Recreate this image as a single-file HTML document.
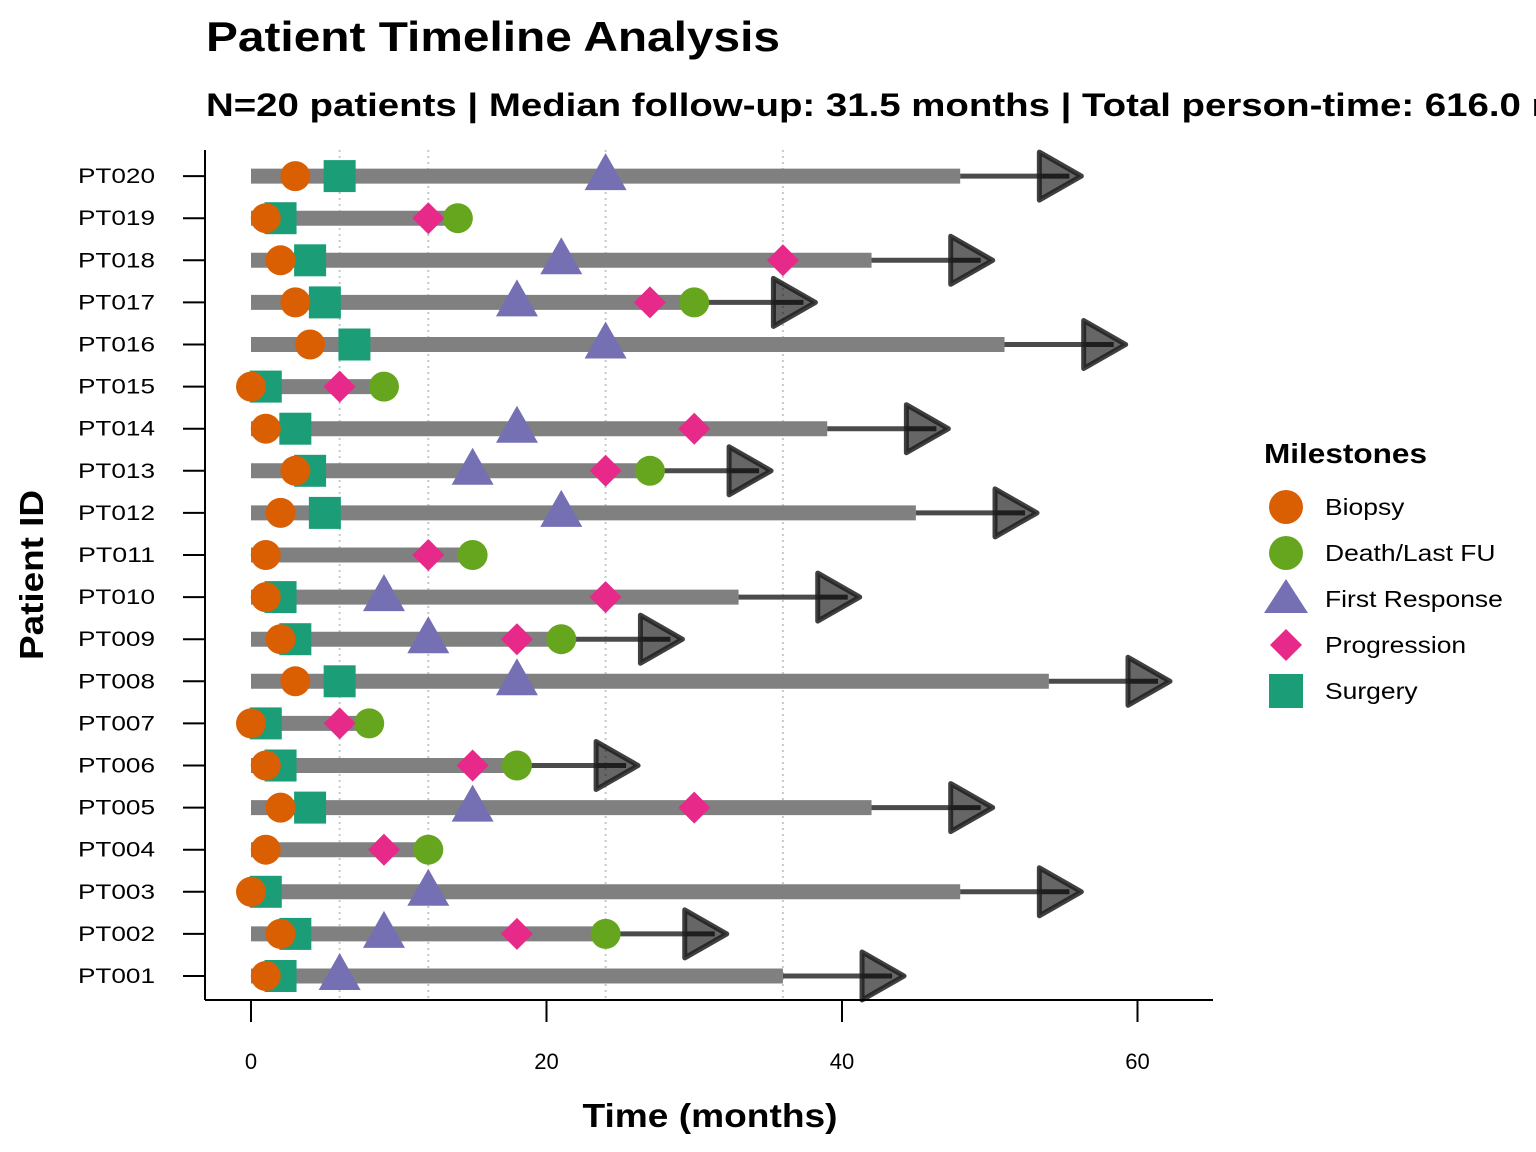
<!DOCTYPE html>
<html><head><meta charset="utf-8"><style>
html,body{margin:0;padding:0;background:#fff;}
svg{display:block;font-family:"Liberation Sans",Arial,sans-serif;}
</style></head><body>
<svg id="chart" width="1536" height="1152" viewBox="0 0 1536 1152">
<text x="206" y="51" font-size="42" font-weight="bold" fill="#000" textLength="574" lengthAdjust="spacingAndGlyphs">Patient Timeline Analysis</text>
<text id="subtitle" x="206" y="116" font-size="32" font-weight="bold" fill="#000">N=20 patients | Median follow-up: 31.5 months | Total person-time: 616.0 months</text>
<g id="grid"></g>
<g id="bars"></g>
<g id="marks"></g>
<g id="axes"></g>
<text x="710" y="1127" font-size="33" font-weight="bold" text-anchor="middle" textLength="255" lengthAdjust="spacingAndGlyphs">Time (months)</text>
<text transform="translate(43,575) rotate(-90)" font-size="33" font-weight="bold" text-anchor="middle" textLength="170" lengthAdjust="spacingAndGlyphs">Patient ID</text>
<g id="legend">
<text x="1264" y="463" font-size="28" font-weight="bold" textLength="163" lengthAdjust="spacingAndGlyphs">Milestones</text>
</g>
</svg>
<script>
const patients=["PT001","PT002","PT003","PT004","PT005","PT006","PT007","PT008","PT009","PT010","PT011","PT012","PT013","PT014","PT015","PT016","PT017","PT018","PT019","PT020"];
const followUp=[36,24,48,12,42,18,8,54,21,33,15,45,27,39,9,51,30,42,14,48];
const ongoing=[1,1,1,0,1,1,0,1,1,1,0,1,1,1,0,1,1,1,0,1];
const biopsy=[1,2,0,1,2,1,0,3,2,1,1,2,3,1,0,4,3,2,1,3];
const surgery=[2,3,1,null,4,2,1,6,3,2,null,5,4,3,1,7,5,4,2,6];
const response=[6,9,12,null,15,null,null,18,12,9,null,21,15,18,null,24,18,21,null,24];
const progression=[null,18,null,9,30,15,6,null,18,24,12,null,24,30,6,null,27,36,12,null];
const death=[null,24,null,12,null,18,8,null,21,null,15,null,27,null,9,null,30,null,14,null];
const xTicks=[0,20,40,60];
const gridAt=[6,12,24,36];

const NS="http://www.w3.org/2000/svg";
const X=v=>251+v*14.775;
const Y=i=>976-i*42.1;
function el(tag,attrs,parent){const e=document.createElementNS(NS,tag);for(const k in attrs)e.setAttribute(k,attrs[k]);parent.appendChild(e);return e;}
function stretch(t,f){const w=t.getComputedTextLength();t.setAttribute('textLength',w*f);t.setAttribute('lengthAdjust','spacingAndGlyphs');}
stretch(document.getElementById('subtitle'),1.2);
const grid=document.getElementById('grid'),bars=document.getElementById('bars'),marks=document.getElementById('marks'),axes=document.getElementById('axes'),legend=document.getElementById('legend');
gridAt.forEach(g=>{const l=el('line',{x1:X(g),x2:X(g),y1:150,y2:1000,stroke:'#c8c8c8','stroke-width':2,'stroke-dasharray':'2 4'},grid);

});
const COL={b:'#D95F02',d:'#66A61E',r:'#7570B3',p:'#E7298A',s:'#1B9E77'};
function shape(kind,cx,cy,parent){let e;
 if(kind==='b'||kind==='d')e=el('circle',{cx,cy,r:15,fill:COL[kind]},parent);
 else if(kind==='s')e=el('rect',{x:cx-16,y:cy-16,width:32,height:32,fill:COL.s},parent);
 else if(kind==='r')e=el('polygon',{points:`${cx},${cy-23} ${cx+21},${cy+14} ${cx-21},${cy+14}`,fill:COL.r},parent);
 else e=el('polygon',{points:`${cx},${cy-16} ${cx+16},${cy} ${cx},${cy+16} ${cx-16},${cy}`,fill:COL.p},parent);
 return e;}
patients.forEach((p,i)=>{const y=Y(i);
 const b=el('line',{x1:X(0),x2:X(followUp[i]),y1:y,y2:y,stroke:'#808080','stroke-width':15},bars);
 
 
 if(ongoing[i]){const xe=X(followUp[i]);const tip=X(followUp[i]+8.2);
  const l=el('line',{x1:xe,x2:tip-12,y1:y,y2:y,stroke:'rgba(30,30,30,0.8)','stroke-width':5},bars);
  
  
  const a=el('polygon',{points:`${tip-42},${y-24} ${tip},${y} ${tip-42},${y+24}`,fill:'rgba(0,0,0,0.6)',stroke:'rgba(30,30,30,0.85)','stroke-width':5,'stroke-linejoin':'round'},bars);
  
  }
 const t=el('text',{x:155,y:y+7,'font-size':21,'text-anchor':'end',textLength:77,lengthAdjust:'spacingAndGlyphs'},axes);t.textContent=p;
 
 
 const tk=el('line',{x1:183,x2:205,y1:y,y2:y,stroke:'#000','stroke-width':2},axes);
 
 
});
const series=[['s',surgery],['b',biopsy],['r',response],['d',death],['p',progression]];
series.forEach(([k,arr])=>arr.forEach((v,i)=>{if(v==null)return;const m=shape(k,X(v),Y(i),marks);
 
 }));
el('line',{x1:205,x2:205,y1:150,y2:1000,stroke:'#000','stroke-width':2},axes);
el('line',{x1:205,x2:1213,y1:1000,y2:1000,stroke:'#000','stroke-width':2},axes);
xTicks.forEach(v=>{const tk=el('line',{x1:X(v),x2:X(v),y1:1000,y2:1022,stroke:'#000','stroke-width':2},axes);
 
 
 const t=el('text',{x:X(v),y:1069,'font-size':22,'text-anchor':'middle'},axes);t.textContent=v;
 
 });
const legendKinds=['b','d','r','p','s'];
const legendLabels=['Biopsy','Death/Last FU','First Response','Progression','Surgery'];
legendKinds.forEach((k,j)=>{const y=507+j*46;
 const g=el('g',{},legend);
 
 
 if(k==='r'){el('polygon',{points:`1286,${y-20} 1308,${y+14} 1264,${y+14}`,fill:COL.r},g);}
 else if(k==='p'){el('polygon',{points:`1286,${y-16} 1302,${y} 1286,${y+16} 1270,${y}`,fill:COL.p},g);}
 else if(k==='s'){el('rect',{x:1269,y:y-17,width:34,height:34,fill:COL.s},g);}
 else el('circle',{cx:1286,cy:y,r:17,fill:COL[k]},g);
 const t=el('text',{x:1325,y:y+8,'font-size':23},g);t.textContent=legendLabels[j];
 stretch(t,1.15);});
</script>
</body></html>
